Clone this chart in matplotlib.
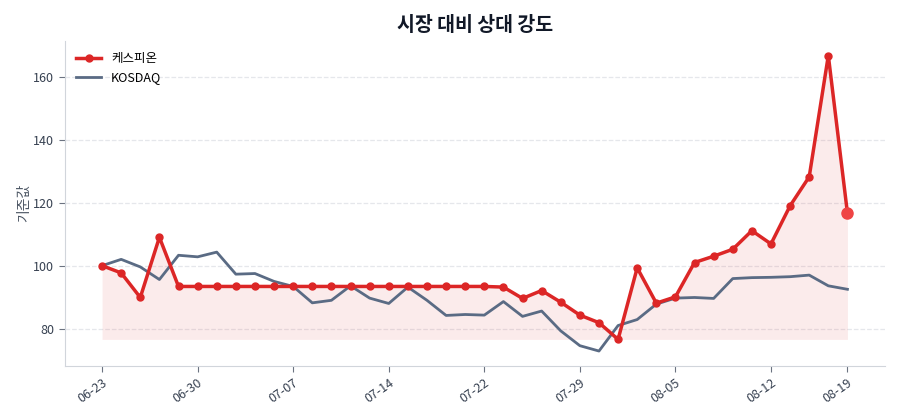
import matplotlib
matplotlib.use("Agg")
import matplotlib.pyplot as plt
import numpy as np

plt.rcParams['font.family'] = ['Noto Sans CJK KR', 'DejaVu Sans']

dates = ["06-23", "06-24", "06-25", "06-26", "06-27",
         "06-30", "07-01", "07-02", "07-03", "07-04",
         "07-07", "07-08", "07-09", "07-10", "07-11",
         "07-14", "07-15", "07-16", "07-17", "07-18",
         "07-22", "07-23", "07-24", "07-25", "07-28",
         "07-29", "07-30", "07-31", "08-01", "08-04",
         "08-05", "08-06", "08-07", "08-08", "08-11",
         "08-12", "08-13", "08-14", "08-18", "08-19"]

caspion = [100.0, 97.7, 89.9, 109.0, 93.4,
           93.4, 93.4, 93.4, 93.4, 93.4,
           93.4, 93.4, 93.4, 93.4, 93.4,
           93.4, 93.4, 93.4, 93.4, 93.4,
           93.4, 93.2, 89.6, 92.1, 88.4,
           84.3, 81.9, 76.6, 99.3, 88.1,
           90.1, 101.0, 103.0, 105.2, 111.1,
           106.9, 119.0, 128.2, 166.7, 116.7]

kosdaq = [100.0, 102.0, 99.6, 95.6, 103.3,
          102.8, 104.3, 97.3, 97.5, 95.0,
          93.4, 88.2, 89.0, 93.6, 89.7,
          88.0, 93.2, 89.0, 84.2, 84.5,
          84.3, 88.6, 83.9, 85.6, 79.3,
          74.6, 72.9, 81.0, 82.9, 87.8,
          89.7, 89.9, 89.6, 95.9, 96.2,
          96.3, 96.5, 97.0, 93.6, 92.5]

tick_idx = [0, 5, 10, 15, 20, 25, 30, 35, 39]

red = '#dc2626'
slate = '#5a6b84'

fig = plt.figure(figsize=(9, 4.2), dpi=100)
ax = fig.add_axes([0.072, 0.129, 0.911, 0.774])

x = np.arange(len(dates))
base = min(caspion)
ax.fill_between(x, caspion, base, color=red, alpha=0.09, linewidth=0)
ax.plot(x, caspion, color=red, lw=2.5, marker='o', ms=5, label='케스피온', zorder=3)
ax.plot(x, kosdaq, color=slate, lw=2, label='KOSDAQ', zorder=2)
ax.plot(x[-1], caspion[-1], 'o', color='#ef4444', ms=8, zorder=4)

ax.set_xticks(tick_idx)
ax.set_xticklabels([dates[i] for i in tick_idx], rotation=35, ha='right',
                   rotation_mode='anchor')
ax.set_yticks([80, 100, 120, 140, 160])
ax.tick_params(labelsize=9, colors='#6b7280', labelcolor='#374151', length=4)
ax.grid(axis='y', linestyle='--', color='#e5e7eb', lw=0.9)
ax.set_axisbelow(True)
for s in ['top', 'right']:
    ax.spines[s].set_visible(False)
for s in ['left', 'bottom']:
    ax.spines[s].set_color('#d1d5db')
ax.set_ylabel('기준값', fontsize=10, color='#4b5563', labelpad=2)
ax.set_title('시장 대비 상대 강도', fontsize=14, fontweight='bold', color='#111827', pad=7)
leg = ax.legend(loc='upper left', frameon=False, fontsize=9)

fig.savefig('out.png', dpi=100)
